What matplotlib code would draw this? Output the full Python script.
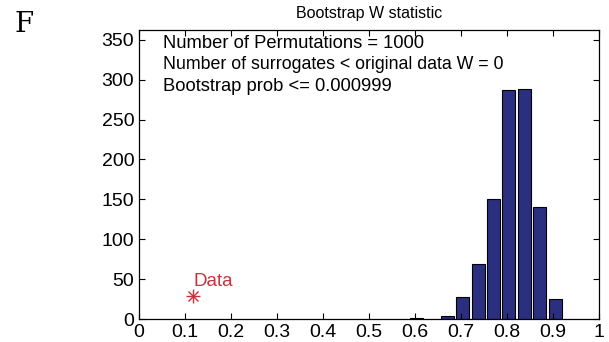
import matplotlib
matplotlib.use("Agg")
import matplotlib.pyplot as plt
import numpy as np

bin_centers = [0.604, 0.671, 0.704, 0.737, 0.771, 0.804, 0.837, 0.871, 0.905]
counts = [1, 4, 28, 69, 150, 287, 289, 141, 25]
data_x = 0.118
data_y = 29
xticks = [0, 0.1, 0.2, 0.3, 0.4, 0.5, 0.6, 0.7, 0.8, 0.9, 1]
xticklabels = ["0", "0.1", "0.2", "0.3", "0.4", "0.5", "0.6", "0.7", "0.8", "0.9", "1"]
yticks = [0, 50, 100, 150, 200, 250, 300, 350]
info_lines = ["Number of Permutations = 1000",
              "Number of surrogates < original data W = 0",
              "Bootstrap prob <= 0.000999"]

plt.rcParams['font.family'] = ['Liberation Sans', 'DejaVu Sans']
red = '#c8323c'

fig = plt.figure(figsize=(6.09, 3.42), dpi=100)
ax = fig.add_axes([139/609, 1-319/342, (599-139)/609, (319-29.5)/342])

ax.bar(bin_centers, counts, width=0.0333*0.85, color='#2b2f80', edgecolor='black', linewidth=0.8)
ax.plot([data_x], [data_y], marker='+', linestyle='none', color=red, markersize=10, markeredgewidth=1.0)
ax.plot([data_x], [data_y], marker='x', linestyle='none', color=red, markersize=7, markeredgewidth=1.0)
ax.text(0.1176, 46.8, "Data", color=red, fontsize=13.5, ha='left', va='center')

ax.set_xlim(0, 1)
ax.set_ylim(0, 363)
ax.set_xticks(xticks)
ax.set_xticklabels(xticklabels)
ax.set_yticks(yticks)
ax.tick_params(direction='in', top=True, right=True, labelsize=14, length=4.5, width=0.8)
for s in ax.spines.values():
    s.set_linewidth(0.9)

ys = [346, 319, 292]
sizes = [13.2, 12.8, 13.2]
for line, yy, fs in zip(info_lines, ys, sizes):
    ax.text(0.052, yy, line, fontsize=fs, ha='left', va='center')

ax.set_title("Bootstrap W statistic", fontsize=11.5, pad=8)
fig.text(14/609, 1-24/342, "F", fontsize=20, family='DejaVu Serif', va='center', ha='left')

fig.savefig("out.png", dpi=100)
